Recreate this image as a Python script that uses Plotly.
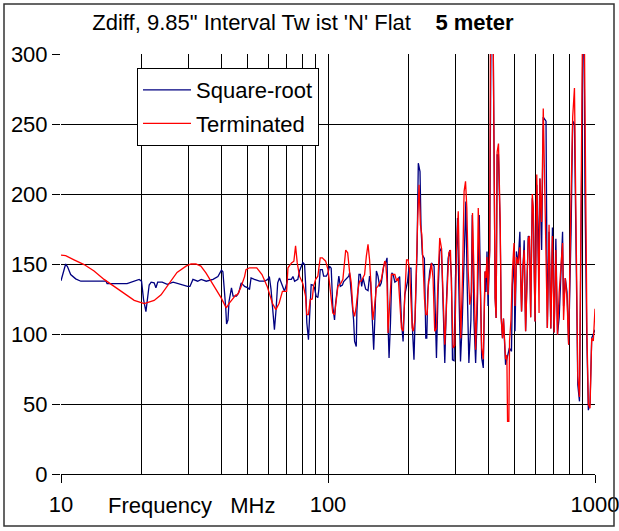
import plotly.graph_objects as go

# Frequency (MHz) and impedance (ohm)
sqrt_freq = [10.0, 10.41, 10.58, 10.87, 11.35, 11.86, 14.75, 14.88, 17.68, 18.3, 19.62, 20.03, 20.38, 20.8, 21.0,
             21.39, 21.76, 22.33, 22.67, 23.02, 23.93, 25.0, 26.3, 28.5, 29.78, 30.4, 31.2, 32.5, 33.5, 35.0,
             37.1, 38.7, 39.9, 40.4, 41.1, 41.4, 41.7, 42.2, 42.6, 43.5, 44.1, 45.4, 46.3, 47.3, 48.7,
             50.1, 50.8, 51.5, 53.0, 55.4, 57.8, 59.5, 60.3, 61.2, 62.4, 63.0, 63.9, 64.8, 65.8, 66.8,
             68.7, 70.7, 72.9, 73.9, 75.0, 77.1, 78.2, 80.5, 81.7, 82.4, 83.3, 84.5, 85.8, 86.5, 87.7,
             89.0, 90.3, 91.6, 92.4, 93.5, 95.2, 96.3, 98.6, 100.0, 101.3, 102.8, 104.2, 105.8, 106.7, 108.9,
             109.8, 111.2, 113.2, 114.5, 117.2, 119.6, 120.4, 122.2, 124.7, 125.8, 127.6, 128.3, 130.6, 132.2, 133.7,
             135.2, 138.4, 141.2, 143.1, 144.4, 146.6, 148.3, 150.0, 151.8, 153.9, 156.1, 158.4, 161.6, 164.5, 166.4,
             167.8, 169.3, 171.4, 173.4, 175.4, 178.0, 180.7, 183.3, 185.5, 188.4, 191.1, 193.9, 198.6, 200.9, 204.5,
             206.8, 209.9, 213.0, 215.5, 217.9, 221.1, 223.1, 225.6, 229.6, 232.4, 234.4, 236.5, 240.4, 244.0, 249.6,
             252.6, 254.8, 258.4, 262.1, 266.0, 269.7, 273.8, 277.8, 281.8, 285.7, 290.0, 292.5, 296.6, 300.2, 305.5,
             308.9, 313.5, 318.0, 322.7, 328.3, 332.1, 337.0, 343.0, 347.0, 352.0, 357.2, 362.2, 368.6, 376.3, 381.6,
             387.3, 390.6, 394.0, 397.5, 403.3, 408.0, 415.3, 422.6, 426.3, 430.0, 435.0, 441.5, 445.3, 450.3, 454.2,
             458.2, 462.4, 467.6, 477.9, 486.7, 490.5, 497.4, 501.7, 507.8, 515.0, 523.1, 530.8, 536.9, 543.0, 549.7,
             556.0, 562.4, 568.3, 574.2, 582.3, 587.4, 596.3, 605.2, 613.6, 621.8, 631.1, 640.1, 655.5, 663.0, 672.9,
             683.1, 692.8, 703.1, 713.6, 723.7, 734.4, 745.4, 756.0, 762.6, 774.0, 785.6, 796.6, 813.5, 825.0, 837.7,
             850.0, 862.0, 874.8, 881.0, 891.6, 901.7, 909.6, 917.5, 931.2, 944.3, 957.9, 972.0, 985.7, 1000.0]
sqrt_z = [138, 150, 148, 142.5, 139.4, 137.7, 137.7, 136, 136, 137, 139, 137.7, 124.6, 116, 123,
          135, 137, 136.5, 133, 137, 137, 135.5, 137, 135, 134, 134, 139, 137.7, 139, 137.7,
          139, 141, 145.6, 144.5, 129.4, 118.6, 107.2, 110, 123.4, 133, 127, 127, 129.4, 136.5, 134,
          133, 131.7, 140, 139, 137.7, 137.7, 139, 141, 131.7, 112.6, 103, 117.4, 136.5, 140, 136.5,
          130.5, 139, 139, 141, 137.7, 139, 145, 151, 149.6, 136.5, 108, 96, 120, 135.3, 135,
          133, 127, 126, 131.7, 146, 146, 141.3, 141.3, 143.7, 148.5, 147, 119.8, 110, 121, 139,
          141.3, 134, 135, 137.5, 140, 141.3, 143.7, 129.4, 110, 94.7, 91, 117, 142.5, 142.5, 134,
          140, 132, 131, 141.3, 137, 108, 88.8, 114, 145, 141.3, 134, 136.5, 148.5, 151, 154.4,
          108, 82.8, 108, 143.7, 142.5, 137, 138, 140, 141, 109, 94.7, 128, 137.6, 147, 147,
          106.6, 81.6, 125.7, 159, 222, 216, 175.7, 156.6, 154, 97, 97, 130.4, 144.7, 150.7, 148.5,
          99.5, 82.9, 130, 159, 161.4, 126, 79.3, 124, 154, 160, 140, 81.6, 81, 140, 182.9,
          135, 80.4, 107, 154.3, 194.7, 135, 79.3, 110, 185, 110, 79.3, 115, 185, 82.9, 75.7,
          144.7, 130, 159, 120, 160, 320, 320, 125.7, 111.4, 228, 228, 175, 111.4, 97, 111,
          97, 78, 82, 90, 87.6, 135, 154, 102, 159, 150, 173, 116, 145, 167, 102,
          140, 170, 168, 112, 197, 185, 109, 206.6, 150, 211, 160, 255, 252, 104.3, 173,
          104, 176, 101, 168, 99.5, 112, 145, 173, 120, 140, 130, 92.4, 173, 252, 250,
          160, 63.8, 51.9, 130, 250, 320, 320, 200, 100, 45.6, 50, 97, 100, 103]

term_freq = [10.0, 10.41, 11.19, 12.2, 13.3, 14.5, 15.81, 17.24, 18.8, 20.5, 21.39, 22.33, 23.7, 25.43, 27.2,
             29.4, 30.7, 32.0, 33.4, 34.9, 36.5, 38.1, 39.8, 41.0, 41.6, 42.7, 43.9, 45.2, 45.8, 47.1,
             48.7, 49.3, 50.8, 54.1, 56.6, 59.2, 61.9, 63.8, 65.6, 67.5, 70.0, 70.8, 73.0, 74.5, 75.6,
             76.7, 78.2, 80.5, 82.4, 83.3, 84.5, 85.8, 87.3, 88.3, 89.9, 91.6, 93.5, 95.2, 98.0, 100.0,
             101.3, 102.9, 104.2, 105.8, 107.4, 108.9, 110.4, 112.0, 113.7, 116.5, 118.5, 119.6, 120.4, 122.2, 124.0,
             125.8, 127.6, 129.5, 131.3, 133.2, 137.1, 139.2, 141.2, 143.1, 145.2, 147.3, 149.6, 151.8, 153.9, 156.1,
             158.4, 160.7, 163.1, 164.5, 166.4, 167.8, 170.1, 172.7, 178.0, 180.7, 183.3, 188.4, 191.1, 193.9, 196.9,
             199.6, 202.2, 206.8, 208.6, 211.7, 214.2, 216.8, 219.3, 221.9, 224.6, 227.2, 229.8, 232.6, 235.2, 237.9,
             240.4, 244.0, 247.4, 251.0, 254.8, 258.4, 262.1, 266.0, 269.7, 273.8, 277.8, 283.5, 287.5, 291.5, 294.1,
             298.5, 303.0, 307.5, 311.5, 314.2, 318.9, 323.4, 327.4, 331.1, 335.0, 339.6, 344.7, 347.7, 352.0, 357.2,
             362.2, 365.4, 370.3, 376.3, 381.6, 387.3, 390.6, 394.0, 397.5, 403.3, 406.0, 415.3, 422.6, 426.3, 430.0,
             435.0, 441.5, 445.3, 450.3, 454.2, 458.2, 462.4, 467.6, 470.4, 475.7, 478.6, 484.4, 490.5, 497.4, 501.7,
             507.8, 515.0, 523.1, 530.8, 536.9, 543.0, 549.7, 556.0, 562.4, 568.3, 574.2, 582.3, 587.4, 596.3, 605.2,
             613.6, 617.3, 621.8, 631.1, 640.1, 649.6, 657.0, 663.0, 672.9, 683.1, 692.8, 703.1, 713.6, 723.7, 734.4,
             745.4, 756.0, 762.6, 774.0, 785.6, 796.6, 813.5, 825.0, 837.7, 850.0, 862.0, 874.8, 881.0, 891.6, 898.0,
             911.8, 921.0, 933.0, 944.3, 957.9, 972.0, 985.7, 1000.0]
term_z = [156.3, 156, 153, 149.6, 145, 139, 134, 129, 124, 121.7, 122.7, 124, 128, 136.5, 144,
          148.5, 150, 150, 148.5, 143.7, 137.7, 131.7, 125.8, 121, 118.6, 122, 124.6, 128, 128, 133,
          141, 146, 147.3, 147.3, 142.5, 134, 122, 117.4, 122, 130.5, 130.5, 147.3, 150.8, 152, 163,
          150.8, 141.3, 136, 127, 113.8, 113.8, 124.6, 125, 134, 139, 141.3, 154.4, 154.4, 152, 146,
          136.5, 125, 115, 113.8, 124.6, 134, 135.3, 136.5, 139, 160, 158, 149.6, 144.7, 136.5, 117.4,
          112.6, 120, 131.7, 137.7, 137.7, 142.5, 155.6, 164, 153, 131.7, 110, 121, 133, 134, 136.5,
          139, 146, 152, 151, 136.5, 100.7, 117, 142.5, 142.5, 138, 140, 104.3, 102, 132.9, 153,
          153, 145, 104.3, 102, 110, 153, 182.9, 206.6, 178, 171, 144.7, 125, 113.8, 113.8, 137.6,
          140, 150.7, 140, 101.9, 104, 140, 168.6, 161.4, 120, 92.4, 120, 157.9, 160, 120, 90,
          92, 160, 187.6, 120, 97, 140, 201.9, 209, 190, 145, 121, 130, 186.4, 145, 88.8,
          130, 190, 150, 90, 82, 144.7, 140, 155, 128, 160, 320, 320, 125.7, 111.4, 230,
          236, 180, 111.4, 97, 111, 97, 82, 85, 37.6, 37.6, 95, 110, 145, 165, 120,
          155, 150, 162, 116, 148, 160, 102, 140, 168, 170, 112, 200, 190, 109, 214,
          150, 115, 211, 180, 261, 200, 150, 104.3, 178, 104, 170, 101, 160, 99.5, 130,
          150, 165, 110, 140, 125, 92.4, 200, 255, 275.7, 160, 70, 55, 130, 270, 320,
          320, 200, 100, 50, 47, 97, 95, 118]

x_tick_vals = [10, 100, 1000]
x_tick_text = ["10", "100", "1000"]
x_minor_vals = [20, 30, 40, 50, 60, 70, 80, 90, 200, 300, 400, 500, 600, 700, 800, 900]

FONT = "Arial, Liberation Sans, sans-serif"
L, R, T, B = 61, 24, 54, 57
PW, PH = 619 - L - R, 531 - T - B

fig = go.Figure()
fig.add_trace(go.Scatter(x=sqrt_freq, y=sqrt_z, mode="lines", name="Square-root",
                         legendgroup="a", line=dict(color="#000080", width=1.3)))
fig.add_trace(go.Scatter(x=term_freq, y=term_z, mode="lines", name="Terminated",
                         legendgroup="b", line=dict(color="#FF0000", width=1.3)))

fig.update_layout(
    width=619, height=531,
    margin=dict(l=L, r=R, t=T, b=B, autoexpand=False),
    paper_bgcolor="white", plot_bgcolor="white",
    font=dict(family=FONT, size=22, color="black"),
    title=dict(text="Zdiff, 9.85\" Interval Tw ist 'N' Flat\u00a0\u00a0\u00a0 <b>5 meter</b>",
               x=303 / 619, xanchor="center", y=1 - 22 / 531, yanchor="middle",
               font=dict(family=FONT, size=22, color="black")),
    legend=dict(x=(137 - L) / PW, y=(474 - 68) / PH, xanchor="left", yanchor="top",
                bordercolor="black", borderwidth=1, bgcolor="white",
                font=dict(family=FONT, size=22, color="black"), itemwidth=48,
                tracegroupgap=2, traceorder="grouped"),
    showlegend=True,
)

fig.update_xaxes(type="log", range=[1, 3],
                 tickmode="array", tickvals=x_tick_vals, ticktext=x_tick_text,
                 ticks="outside", ticklen=8, tickcolor="black", tickwidth=1,
                 showgrid=True, gridcolor="black", gridwidth=1,
                 showline=True, linecolor="black", linewidth=1,
                 zeroline=False, ticklabelstandoff=3, ticklabeloverflow="allow",
                 minor=dict(tickmode="array", tickvals=x_minor_vals, showgrid=True,
                            gridcolor="black", gridwidth=1, ticks=""))
fig.update_yaxes(range=[0, 300], dtick=50, tick0=0,
                 ticks="outside", ticklen=8, tickcolor="black", tickwidth=1,
                 showgrid=True, gridcolor="black", gridwidth=1,
                 zeroline=False, showline=False, ticklabelstandoff=0)

fig.add_annotation(text="Frequency\u00a0\u00a0\u00a0MHz", xref="paper", yref="paper",
                   x=(192 - L) / PW, y=(474 - 505) / PH, xanchor="center", yanchor="middle",
                   showarrow=False, font=dict(family=FONT, size=22, color="black"))

fig.add_shape(type="rect", xref="paper", yref="paper",
              x0=(4 - L) / PW, x1=(614 - L) / PW,
              y0=(474 - 526) / PH, y1=(474 - 4) / PH,
              line=dict(color="#333333", width=1.5), fillcolor="rgba(0,0,0,0)", layer="above")

fig.write_html("out.html", config={"displayModeBar": False},
               post_script="document.body.style.margin='0';")
